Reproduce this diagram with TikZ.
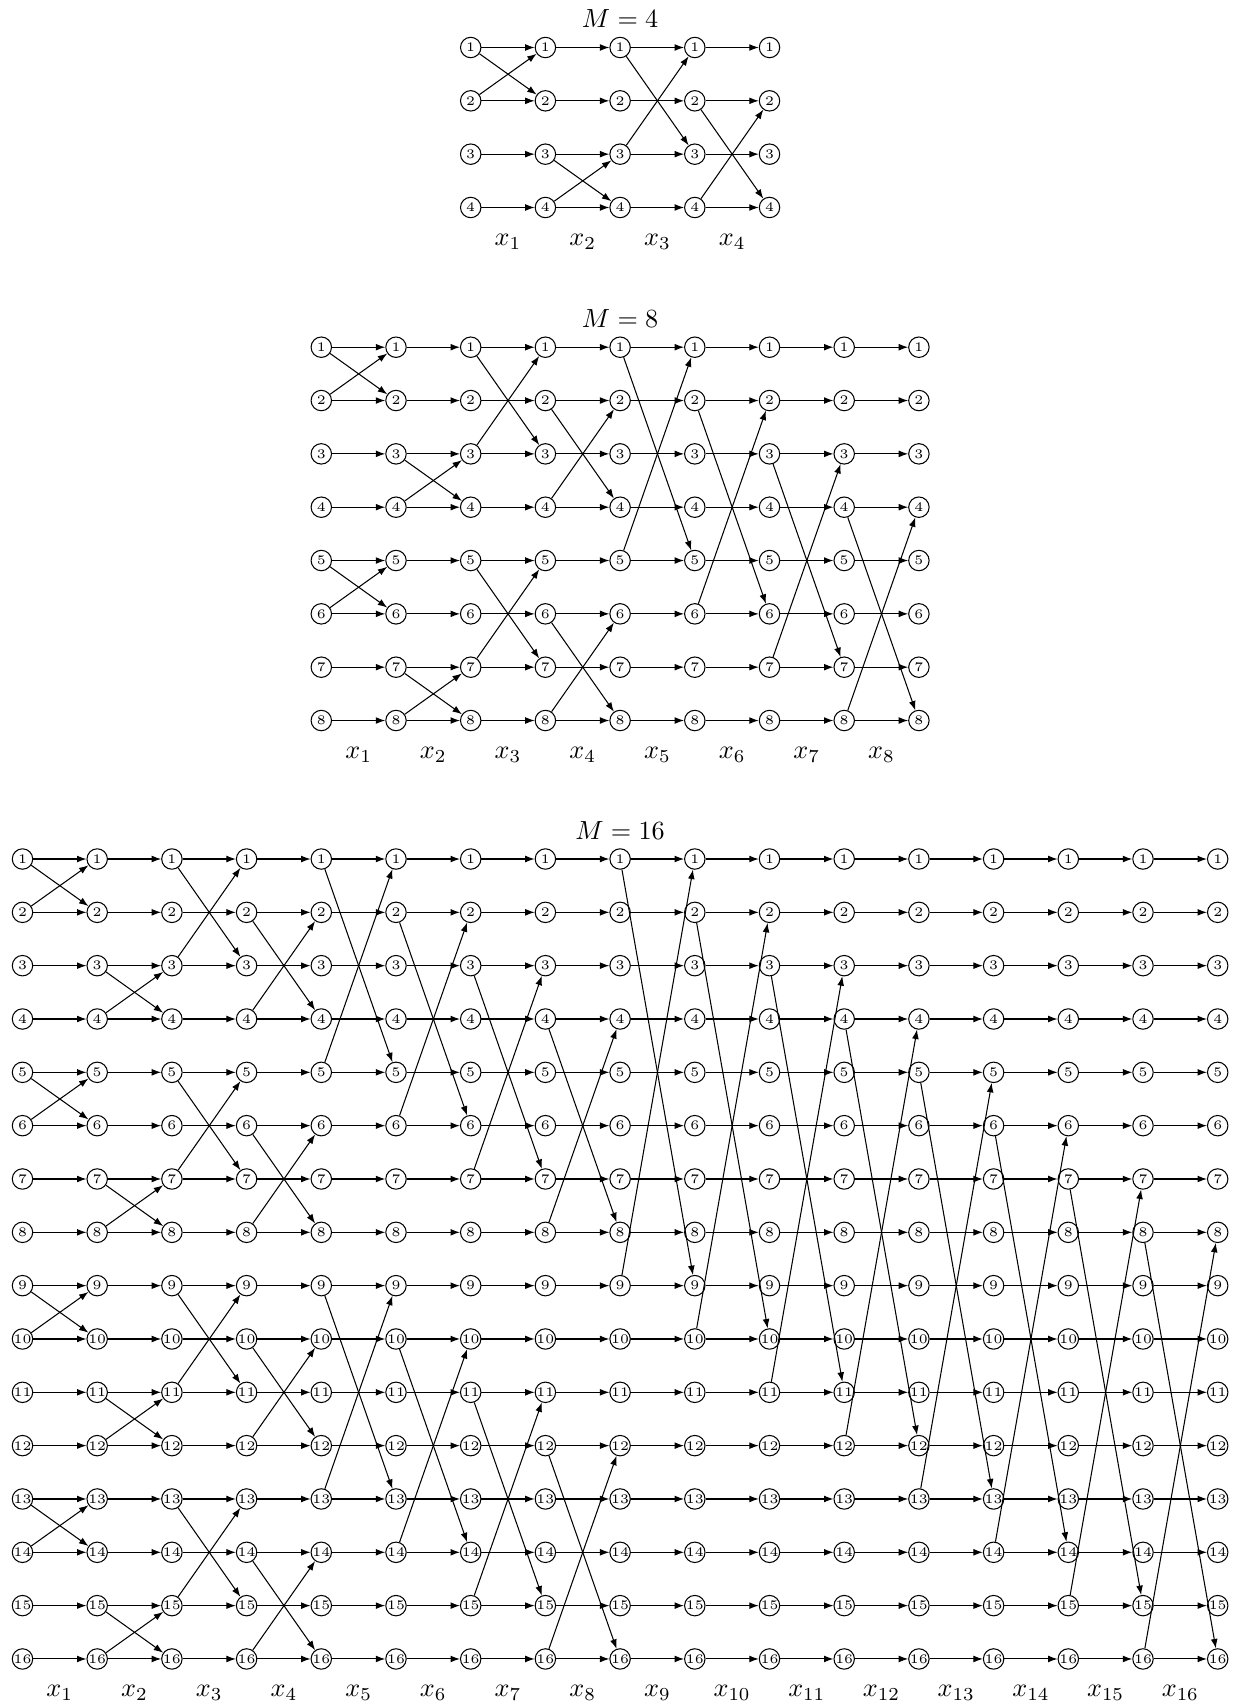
\documentclass[tikz,border=0pt]{standalone}
\usetikzlibrary{arrows.meta}
\tikzset{
  nd/.style={circle,draw,line width=0.4pt,inner sep=0pt,minimum size=7.8pt,font=\tiny},
  ar/.style={line width=0.4pt,-{Latex[length=3.6pt,width=2.6pt]}},
  ttl/.style={inner sep=0pt},
  lbl/.style={inner sep=0pt,anchor=base}
}
\newcommand\mkblock[4]{%
  \node[ttl] (T#1) at ({#2+(#1/2)*74.7},{#3-28.7}) {$M=#1$};
  \foreach \cc in {0,...,#1}{
    \foreach \rr in {1,...,#1}{
      \node[nd] (B#1-\cc-\rr) at ({#2+\cc*74.7},{#3+(\rr-1)*53.33}) {\rr};
    }
  }
  \foreach \cc in {1,...,#1}{
    \pgfmathtruncatemacro\pcol{\cc-1}
    \foreach \rr in {1,...,#1}{
      \draw[ar] (B#1-\pcol-\rr) -- (B#1-\cc-\rr);
    }
    \node[lbl] (L#1-\cc) at ({#2+(\cc-0.5)*74.7},{#3+(#1-1)*53.33+38}) {$x_{\cc}$};
  }
  \foreach \stg/\st/\dist/\per in {#4}{
    \pgfmathtruncatemacro\ngr{#1/\per-1}
    \pgfmathtruncatemacro\pcol{\stg-1}
    \foreach \gg in {0,...,\ngr}{
      \pgfmathtruncatemacro\ii{\st+\per*\gg}
      \pgfmathtruncatemacro\jj{\ii+\dist}
      \draw[ar] (B#1-\pcol-\ii) -- (B#1-\stg-\jj);
      \draw[ar] (B#1-\pcol-\jj) -- (B#1-\stg-\ii);
    }
  }
}
\begin{document}
\begin{tikzpicture}[x=0.38168pt,y=-0.38168pt]
\useasboundingbox[fill=white] (0,0) rectangle (1239,1705);
\mkblock{4}{470.7}{47.5}{1/1/1/4,2/3/1/4,3/1/2/4,4/2/2/4}
\mkblock{8}{321.3}{347.2}{1/1/1/4,2/3/1/4,3/1/2/4,4/2/2/4,5/1/4/8,6/2/4/8,7/3/4/8,8/4/4/8}
\mkblock{16}{22.5}{859}{1/1/1/4,2/3/1/4,3/1/2/4,4/2/2/4,5/1/4/8,6/2/4/8,7/3/4/8,8/4/4/8,9/1/8/16,10/2/8/16,11/3/8/16,12/4/8/16,13/5/8/16,14/6/8/16,15/7/8/16,16/8/8/16}
\end{tikzpicture}
\end{document}
